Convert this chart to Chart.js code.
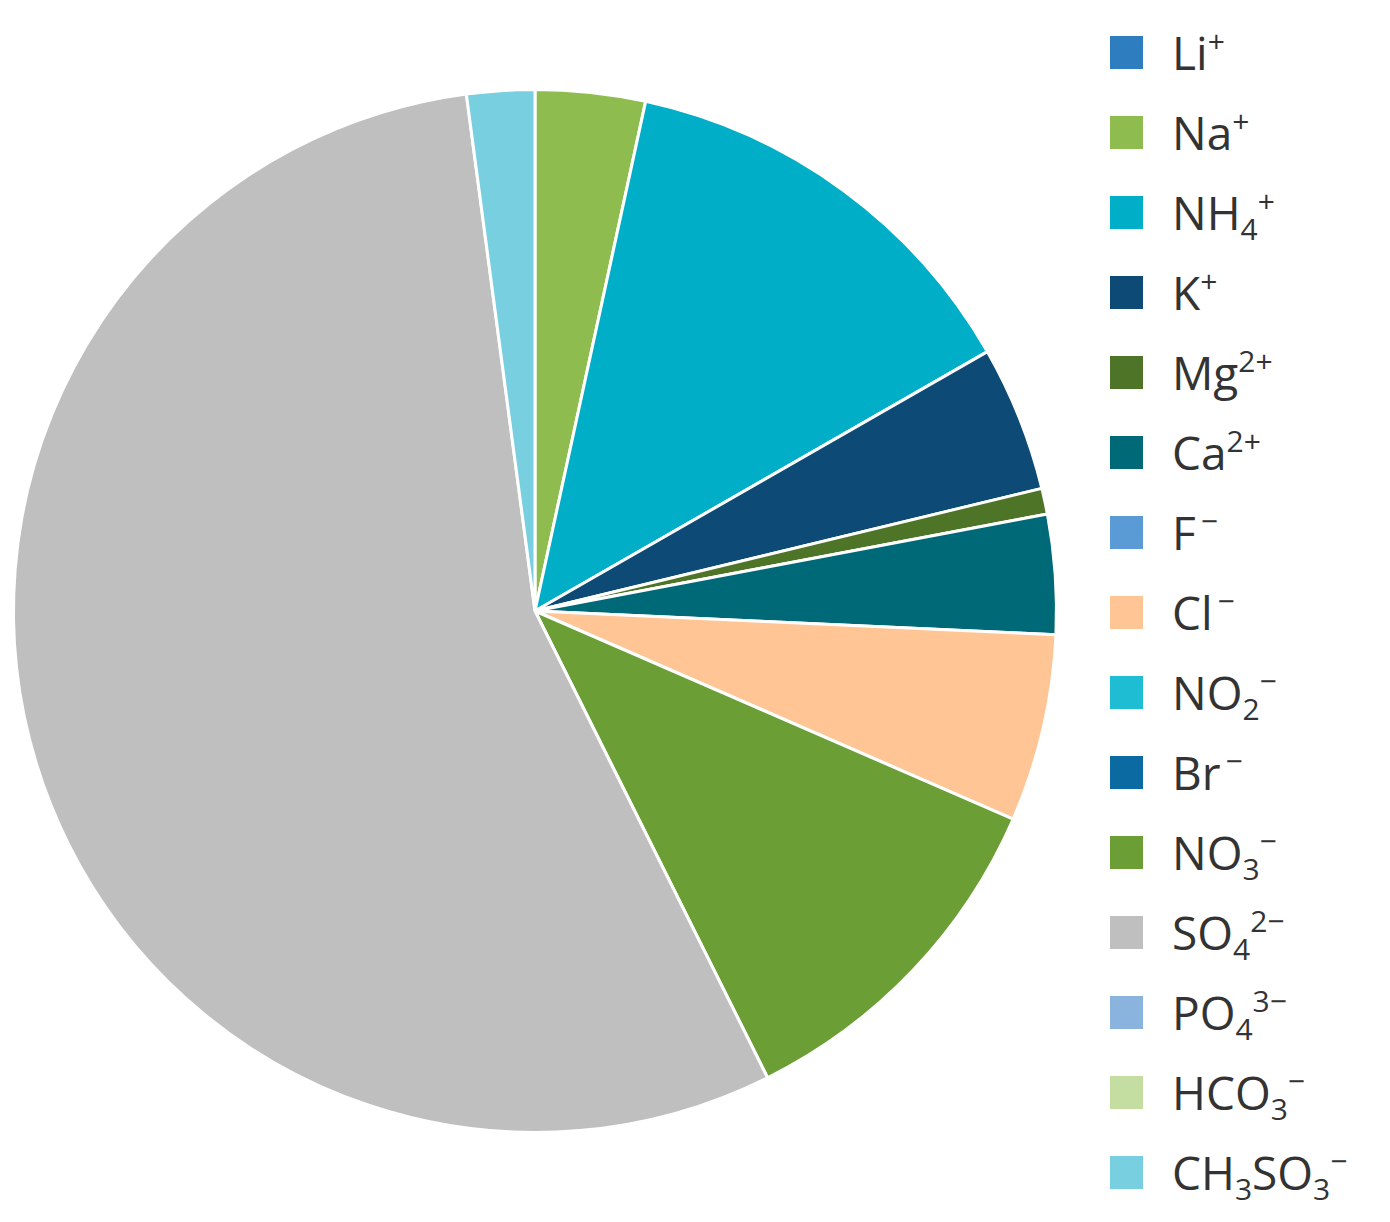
<!DOCTYPE html>
<html>
<head>
<meta charset="utf-8">
<script src="https://cdn.jsdelivr.net/npm/chart.js@4"></script>
<style>
  body { margin: 0; background: #fff; width: 1390px; height: 1222px; position: relative; overflow: hidden; }
  #wrap { position: absolute; left: 0; top: 0; width: 1070px; height: 1222px; }
  #legend { position: absolute; left: 1110px; top: 12px; font-family: "Open Sans", sans-serif; font-size: 46px; color: #333; }
  .row { height: 80px; display: flex; align-items: center; }
  .box { width: 33px; height: 33px; margin-right: 29px; flex: none; }
  sub, sup { font-size: 30px; line-height: 0; }
  sub { vertical-align: -10px; }
  sup { vertical-align: 18px; }
</style>
</head>
<body>
<div id="wrap"><canvas id="myChart"></canvas></div>
<div id="legend"></div>
<script>
// categories (HTML labels for legend, plain labels for chart)
const labels = ["Li+", "Na+", "NH4+", "K+", "Mg2+", "Ca2+", "F-", "Cl-", "NO2-", "Br-", "NO3-", "SO42-", "PO43-", "HCO3-", "CH3SO3-"];
const labelsHtml = ["Li<sup>+</sup>", "Na<sup>+</sup>", "NH<sub>4</sub><sup>+</sup>", "K<sup>+</sup>", "Mg<sup>2+</sup>", "Ca<sup>2+</sup>",
  "F<sup>&thinsp;−</sup>", "Cl<sup>&thinsp;−</sup>", "NO<sub>2</sub><sup>−</sup>", "Br<sup>&thinsp;−</sup>", "NO<sub>3</sub><sup>−</sup>",
  "SO<sub>4</sub><sup>2−</sup>", "PO<sub>4</sub><sup>3−</sup>", "HCO<sub>3</sub><sup>−</sup>", "CH<sub>3</sub>SO<sub>3</sub><sup>−</sup>"];
// share in percent
const values = [0, 3.4, 13.3, 4.5, 0.8, 3.7, 0, 5.8, 0, 0, 11.1, 55.2, 0, 0, 2.1];
const colors = ["#2e7ebf", "#8fbc4f", "#00aec7", "#0d4a75", "#4e7428", "#006977", "#5b9bd5", "#ffc594",
  "#1ebdd4", "#0a6aa1", "#6b9e35", "#bfbfbf", "#8ab4dd", "#c3dea0", "#78cfe0"];

const ctx = document.getElementById('myChart');
new Chart(ctx, {
  type: 'pie',
  data: {
    labels: labels,
    datasets: [{ data: values, backgroundColor: colors, borderColor: '#fff', borderWidth: 3 }]
  },
  options: {
    responsive: true,
    maintainAspectRatio: false,
    animation: false,
    layout: { padding: 12 },
    plugins: { legend: { display: false }, tooltip: { enabled: false } }
  }
});

// Legend
const legend = document.getElementById('legend');
labelsHtml.forEach((lab, i) => {
  const row = document.createElement('div');
  row.className = 'row';
  row.innerHTML = `<div class="box" style="background:${colors[i]}"></div><div>${lab}</div>`;
  legend.appendChild(row);
});
</script>
</body>
</html>
